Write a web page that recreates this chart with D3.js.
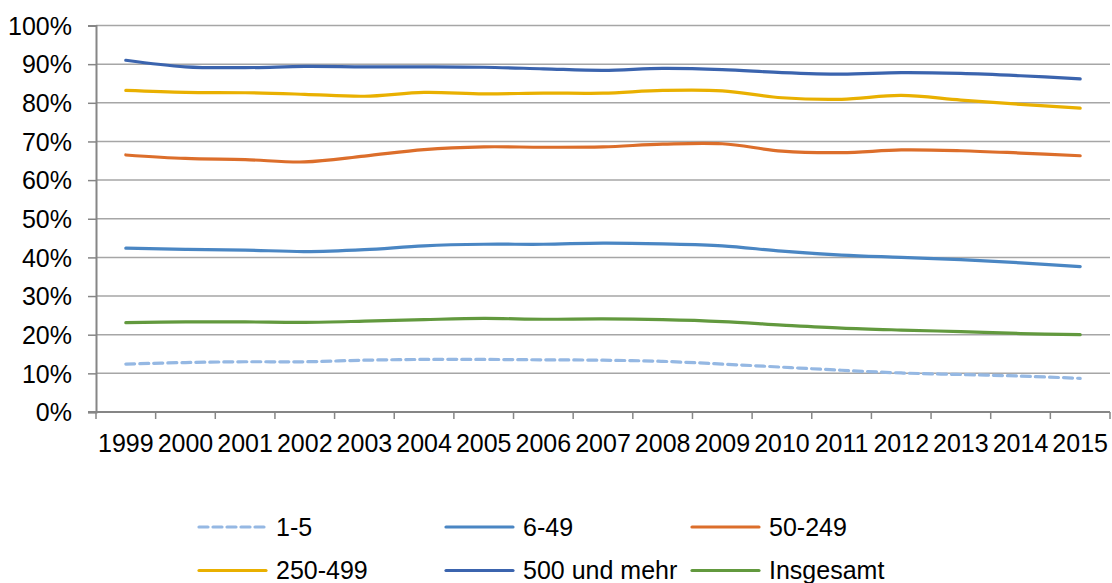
<!DOCTYPE html>
<html>
<head>
<meta charset="utf-8">
<script src="https://cdn.jsdelivr.net/npm/d3@7"></script>
<style>
  html, body { margin: 0; padding: 0; background: #fff; }
  svg { display: block; font-family: "Liberation Sans", Arial, sans-serif; }
</style>
</head>
<body>
<svg id="chart" width="1112" height="583"></svg>
<script>
// Years on the x axis
const years = ["1999","2000","2001","2002","2003","2004","2005","2006","2007","2008","2009","2010","2011","2012","2013","2014","2015"];

// Share (%) per company size class
const s1to5      = [12.4, 12.8, 13.0, 13.0, 13.4, 13.6, 13.6, 13.5, 13.4, 13.1, 12.4, 11.6, 10.8, 10.1, 9.7, 9.3, 8.7];
const s6to49     = [42.4, 42.1, 41.9, 41.5, 42.0, 43.0, 43.4, 43.4, 43.7, 43.5, 43.0, 41.6, 40.6, 40.0, 39.4, 38.6, 37.6];
const s50to249   = [66.5, 65.6, 65.3, 64.7, 66.2, 67.9, 68.6, 68.5, 68.6, 69.3, 69.4, 67.5, 67.1, 67.8, 67.6, 67.0, 66.3];
const s250to499  = [83.2, 82.7, 82.6, 82.2, 81.7, 82.7, 82.3, 82.5, 82.5, 83.2, 83.1, 81.3, 80.9, 81.9, 80.7, 79.6, 78.6];
const s500plus   = [91.0, 89.3, 89.1, 89.4, 89.3, 89.3, 89.2, 88.8, 88.4, 88.9, 88.6, 87.8, 87.4, 87.8, 87.6, 87.0, 86.2];
const sTotal     = [23.1, 23.3, 23.3, 23.2, 23.5, 23.9, 24.2, 24.0, 24.1, 23.9, 23.4, 22.5, 21.7, 21.2, 20.8, 20.3, 20.0];

const seriesNames = ["1-5", "6-49", "50-249", "250-499", "500 und mehr", "Insgesamt"];
const seriesValues = [s1to5, s6to49, s50to249, s250to499, s500plus, sTotal];
const seriesColors = ["#95b8e3", "#4a86c3", "#dc6e2b", "#e9b000", "#3b64ae", "#62993e"];
const seriesDashes = ["9,5", null, null, null, null, null];

const yTicks = [0, 10, 20, 30, 40, 50, 60, 70, 80, 90, 100];

const svg = d3.select("#chart");
const plotLeft = 96, plotRight = 1110, plotTop = 25.5, plotBottom = 412;
const fontSize = 25;

const x = d3.scaleBand().domain(years).range([plotLeft, plotRight]);
const y = d3.scaleLinear().domain([0, 100]).range([plotBottom, plotTop]);

// Horizontal gridlines
svg.append("g")
  .selectAll("line")
  .data(yTicks.filter(d => d > 0))
  .join("line")
  .attr("x1", plotLeft).attr("x2", plotRight)
  .attr("y1", d => y(d)).attr("y2", d => y(d))
  .attr("stroke", "#a6a6a6").attr("stroke-width", 1.5);

// Y axis
const yAxis = svg.append("g")
  .attr("transform", `translate(${plotLeft},0)`)
  .call(d3.axisLeft(y).tickValues(yTicks).tickFormat(d => d + "%").tickSize(8).tickPadding(16));
yAxis.select(".domain").attr("stroke", "#868686").attr("stroke-width", 2);
yAxis.selectAll(".tick line").attr("stroke", "#868686").attr("stroke-width", 1.5);
yAxis.selectAll(".tick text")
  .attr("font-size", fontSize).attr("fill", "#000")
  .attr("font-family", "Liberation Sans, Arial, sans-serif")
  .attr("dy", "0.35em");

// X axis with ticks between categories
const xAxis = svg.append("g")
  .attr("transform", `translate(0,${plotBottom})`);
xAxis.append("line")
  .attr("x1", plotLeft - 8).attr("x2", plotRight)
  .attr("stroke", "#868686").attr("stroke-width", 2);
const boundaries = years.map(d => x(d)).concat([x(years[years.length - 1]) + x.bandwidth()]);
xAxis.selectAll("line.tk")
  .data(boundaries)
  .join("line").attr("class", "tk")
  .attr("x1", d => d).attr("x2", d => d)
  .attr("y1", 0).attr("y2", 7)
  .attr("stroke", "#868686").attr("stroke-width", 1.5);
xAxis.selectAll("text")
  .data(years)
  .join("text")
  .attr("x", d => x(d) + x.bandwidth() / 2)
  .attr("y", 40)
  .attr("text-anchor", "middle")
  .attr("font-size", fontSize)
  .attr("fill", "#000")
  .text(d => d);

// Series lines (smoothed)
const line = d3.line()
  .x((d, i) => x(years[i]) + x.bandwidth() / 2)
  .y(d => y(d))
  .curve(d3.curveCatmullRom.alpha(0.5));

svg.append("g")
  .selectAll("path")
  .data(seriesValues)
  .join("path")
  .attr("d", d => line(d))
  .attr("fill", "none")
  .attr("stroke", (d, i) => seriesColors[i])
  .attr("stroke-width", 3.2)
  .attr("stroke-linecap", "round")
  .attr("stroke-dasharray", (d, i) => seriesDashes[i]);

// Legend: three columns, two rows
const legCols = [199, 446, 692];
const legRows = [527, 570.5];
const legend = svg.append("g");
const items = legend.selectAll("g")
  .data(seriesNames)
  .join("g")
  .attr("transform", (d, i) => `translate(${legCols[i % 3]},${legRows[Math.floor(i / 3)]})`);
items.append("line")
  .attr("x1", 0).attr("x2", 67)
  .attr("stroke", (d, i) => seriesColors[i])
  .attr("stroke-width", 3.2)
  .attr("stroke-linecap", "round")
  .attr("stroke-dasharray", (d, i) => seriesDashes[i]);
items.append("text")
  .attr("x", 77)
  .attr("y", 8.5)
  .attr("font-size", fontSize)
  .attr("fill", "#000")
  .text(d => d);
</script>
</body>
</html>
